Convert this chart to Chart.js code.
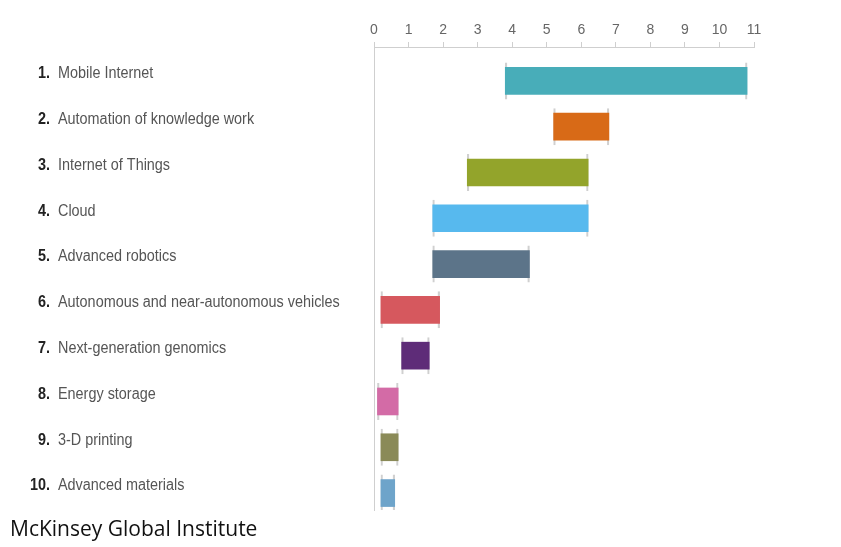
<!DOCTYPE html>
<html>
<head>
<meta charset="utf-8">
<script src="https://cdn.jsdelivr.net/npm/chart.js@4"></script>
<style>
  body { margin: 0; background: #fff; }
  #wrap { position: relative; width: 841px; height: 547px; }
  #source { position: absolute; left: 10px; top: 518px; font-family: "Open Sans", Lato, sans-serif; font-size: 21px; line-height: 1; color: #111; }
</style>
</head>
<body>
<div id="wrap">
  <canvas id="myChart" width="841" height="547"></canvas>
  <div id="source">McKinsey Global Institute</div>
</div>
<script>
// 技術ごとの範囲 (start - end)
const categories = [
  'Mobile Internet',
  'Automation of knowledge work',
  'Internet of Things',
  'Cloud',
  'Advanced robotics',
  'Autonomous and near-autonomous vehicles',
  'Next-generation genomics',
  'Energy storage',
  '3-D printing',
  'Advanced materials'
];
const starts = [3.8, 5.2, 2.7, 1.7, 1.7, 0.2, 0.8, 0.1, 0.2, 0.2];
const ends   = [10.8, 6.8, 6.2, 6.2, 4.5, 1.9, 1.6, 0.7, 0.7, 0.6];
const xTicks = [0, 1, 2, 3, 4, 5, 6, 7, 8, 9, 10, 11];
const colors = ['#48adb9', '#d86a17', '#93a42b', '#57b9ee', '#5c7489',
                '#d6585e', '#5e2c78', '#d36ba6', '#8a8a58', '#6ea4ca'];

const ranges = categories.map((c, i) => ({ y: i, x: [starts[i], ends[i]] }));

const labelPlugin = {
  id: 'rowLabels',
  afterDraw(chart) {
    const c = chart.ctx;
    const ys = chart.scales.y;
    const sx = 0.9;
    c.save();
    c.textBaseline = 'middle';
    c.scale(sx, 1);
    categories.forEach((name, i) => {
      const y = ys.getPixelForValue(i) - 7;
      c.font = 'bold 16px "Liberation Sans", sans-serif';
      c.fillStyle = '#222';
      c.textAlign = 'right';
      c.fillText((i + 1) + '.', 50 / sx, y);
      c.font = '16px "Liberation Sans", sans-serif';
      c.fillStyle = '#555';
      c.textAlign = 'left';
      c.fillText(name, 58 / sx, y);
    });
    c.restore();
  }
};

let ctx = document.getElementById('myChart');
new Chart(ctx, {
  type: 'bar',
  data: {
    datasets: [
      {
        data: ranges,
        backgroundColor: colors,
        barThickness: 27,
        borderWidth: 0,
        order: 1
      },
      {
        data: ranges,
        backgroundColor: 'rgba(0,0,0,0)',
        borderColor: '#d0d0d0',
        borderWidth: { left: 1.5, right: 1.5, top: 0, bottom: 0 },
        borderSkipped: false,
        barThickness: 37,
        order: 2
      }
    ]
  },
  options: {
    indexAxis: 'y',
    responsive: false,
    animation: false,
    layout: { padding: { top: 0, right: 87, bottom: 37, left: 0 } },
    plugins: { legend: { display: false }, tooltip: { enabled: false } },
    datasets: { bar: { grouped: false } },
    scales: {
      x: {
        type: 'linear',
        position: 'top',
        min: 0,
        max: 11,
        afterBuildTicks(scale) { scale.ticks = xTicks.map(v => ({ value: v })); },
        afterFit(scale) { scale.height = 47; },
        ticks: {
          color: '#666',
          padding: 3,
          font: { family: '"Liberation Sans", sans-serif', size: 14 }
        },
        grid: { drawOnChartArea: false, drawTicks: true, tickLength: 5, color: '#cfcfcf' },
        border: { color: '#cfcfcf', width: 1 }
      },
      y: {
        type: 'linear',
        reverse: true,
        offset: false,
        min: -0.74,
        max: 9.37,
        afterFit(scale) { scale.width = 374; },
        ticks: { display: false },
        grid: { display: false },
        border: { color: '#cfcfcf', width: 1 }
      }
    }
  },
  plugins: [labelPlugin]
});
</script>
</body>
</html>
